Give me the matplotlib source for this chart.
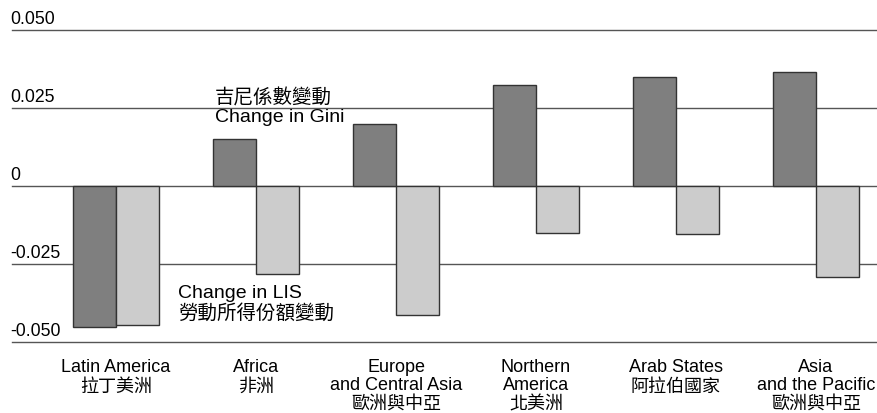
import numpy as np
import matplotlib
matplotlib.use('Agg')
import matplotlib.pyplot as plt
import matplotlib.transforms as mtrans

# English first, CJK falls back to Noto TC
plt.rcParams['font.family'] = ['Liberation Sans', 'Noto Sans CJK TC']

# --- data ---
regions_en = [['Latin America'], ['Africa'], ['Europe', 'and Central Asia'],
              ['Northern', 'America'], ['Arab States'], ['Asia', 'and the Pacific']]
regions_zh = ['拉丁美洲', '非洲', '歐洲與中亞', '北美洲', '阿拉伯國家', '歐洲與中亞']
gini = [-0.0452, 0.0151, 0.0199, 0.0323, 0.0349, 0.0365]
lis = [-0.0446, -0.0282, -0.0413, -0.0150, -0.0154, -0.0293]
yticks = [0.05, 0.025, 0, -0.025, -0.05]
ytick_labels = ['0.050', '0.025', '0', '-0.025', '-0.050']

W, H = 878, 413
fs_tick = 12.7
fs_cat = 13
fs_ann = 14

fig = plt.figure(figsize=(W/100, H/100), dpi=100)
ax = fig.add_axes([12/W, 71/H, 866/W, 312/H])

x = np.arange(len(gini))
w = 0.307
ax.bar(x - w/2, gini, w, color='#7f7f7f', edgecolor='#333333', linewidth=1, zorder=2)
ax.bar(x + w/2, lis, w, color='#cccccc', edgecolor='#333333', linewidth=1, zorder=2)

for v in yticks:
    ax.axhline(v, color='#555555', lw=1, zorder=1, clip_on=False)

ax.set_xlim(-0.743, 5.443)
ax.set_ylim(-0.05, 0.05)
ax.axis('off')

# y labels sit just above their lines
ytrans = mtrans.blended_transform_factory(ax.transAxes, ax.transData)
off = mtrans.ScaledTranslation(-2/100, 6/100, fig.dpi_scale_trans)
for v, lab in zip(yticks, ytick_labels):
    ax.text(0, v, lab, transform=ytrans + off, ha='left', va='baseline',
            fontsize=fs_tick, color='black', clip_on=False)

# x in data, y in figure pixels from the top
xtrans = mtrans.blended_transform_factory(ax.transData, fig.transFigure)

def put(xd, py, s, size, ha='center'):
    ax.text(xd, 1 - py/H, s, transform=xtrans, ha=ha, va='baseline',
            fontsize=size, color='black', clip_on=False)

for i in range(len(regions_en)):
    lines = regions_en[i]
    for k, s in enumerate(lines):
        put(i, 372 + 17.5*k, s, fs_cat)
    put(i, 372 + 17.5*(len(lines) - 1) + 19.5, regions_zh[i], fs_cat)

# series annotations
put(0.707, 104, '吉尼係數變動', fs_ann, ha='left')
put(0.707, 122.5, 'Change in Gini', fs_ann, ha='left')
put(0.443, 298.5, 'Change in LIS', fs_ann, ha='left')
put(0.443, 319, '勞動所得份額變動', fs_ann, ha='left')

fig.savefig('out.png', dpi=100)
